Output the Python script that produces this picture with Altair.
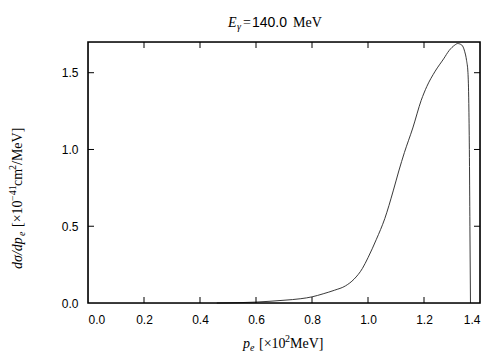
import altair as alt
import pandas as pd

# Curve (p_e in 10^2 MeV, dsigma/dp_e in 10^-41 cm^2/MeV)
p_e = [0.46, 0.50, 0.60, 0.70, 0.76, 0.80, 0.84, 0.88, 0.92, 0.95, 0.98, 1.00,
       1.03, 1.06, 1.09, 1.11, 1.13, 1.16, 1.19, 1.21, 1.24, 1.27, 1.29, 1.31,
       1.32, 1.335, 1.345, 1.352, 1.357, 1.360, 1.362, 1.364, 1.366]
dsig = [0.000, 0.001, 0.006, 0.018, 0.028, 0.040, 0.060, 0.083, 0.112, 0.155, 0.225, 0.295,
        0.415, 0.550, 0.730, 0.860, 0.980, 1.140, 1.320, 1.410, 1.510, 1.590, 1.645, 1.680,
        1.690, 1.680, 1.640, 1.580, 1.500, 1.300, 1.000, 0.500, 0.000]

x_ticks = [0.2, 0.4, 0.6, 0.8, 1.0, 1.2]
y_ticks = [0.5, 1.0, 1.5]

W, H = 392, 261
df = pd.DataFrame({"p": p_e, "s": dsig})
xt = pd.DataFrame({"x": x_ticks})
yt = pd.DataFrame({"y": y_ticks})

xs = alt.Scale(domain=[0, 1.4], nice=False, zero=False)
ys = alt.Scale(domain=[0, 1.7], nice=False, zero=False)

line = alt.Chart(df).mark_line(color="#222222", strokeWidth=0.9, interpolate="monotone").encode(
    x=alt.X("p:Q", scale=xs, axis=alt.Axis(
        title=None, values=[0, 0.2, 0.4, 0.6, 0.8, 1.0, 1.2, 1.4], format=".1f",
        ticks=False, domain=False, grid=False, labelPadding=11,
        labelFont="Liberation Sans", labelFontSize=12, labelColor="black")),
    y=alt.Y("s:Q", scale=ys, axis=alt.Axis(
        title=None, values=[0, 0.5, 1.0, 1.5], format=".1f",
        ticks=False, domain=False, grid=False, labelPadding=10,
        labelFont="Liberation Sans", labelFontSize=12, labelColor="black")),
)

tl = 6
xb = alt.Chart(xt).mark_rule(color="black", strokeWidth=1).encode(
    x=alt.X("x:Q", scale=xs), y=alt.value(H), y2=alt.value(H - tl))
xtop = alt.Chart(xt).mark_rule(color="black", strokeWidth=1).encode(
    x=alt.X("x:Q", scale=xs), y=alt.value(0), y2=alt.value(tl))
yl = alt.Chart(yt).mark_rule(color="black", strokeWidth=1).encode(
    y=alt.Y("y:Q", scale=ys), x=alt.value(0), x2=alt.value(tl))
yr = alt.Chart(yt).mark_rule(color="black", strokeWidth=1).encode(
    y=alt.Y("y:Q", scale=ys), x=alt.value(W), x2=alt.value(W - tl))

frame = alt.Chart(pd.DataFrame({"a": [0]})).mark_rect(
    fillOpacity=0, stroke="black", strokeWidth=1.6).encode(
    x=alt.value(0), x2=alt.value(W), y=alt.value(0), y2=alt.value(H))

def txt(s, x, y, italic=False, size=14, angle=0, font="Liberation Serif"):
    kw = dict(text=s, font=font, fontSize=size, align="left", baseline="alphabetic",
              color="black")
    if italic:
        kw["fontStyle"] = "italic"
    if angle:
        kw["angle"] = angle
    return alt.Chart(pd.DataFrame({"a": [0]})).mark_text(**kw).encode(
        x=alt.value(x), y=alt.value(y))

labels = [
    # title
    txt("E", 140, -15, italic=True),
    txt("γ", 149, -12, italic=True, size=10),
    txt("=", 155, -15),
    txt("140.0", 164, -15, size=14, font="Liberation Sans"),
    txt("MeV", 205, -15),
    # x axis title
    txt("p", 155, 306, italic=True),
    txt("e", 162, 309, italic=True, size=10),
    txt("[×10", 171, 306),
    txt("2", 197, 300, size=10),
    txt("MeV]", 202, 306),
    # y axis title (rotated, reads bottom to top)
    txt("dσ/dp", -66, 227, italic=True, angle=270),
    txt("e", -63, 194, italic=True, size=10, angle=270),
    txt("[×10", -66, 185, angle=270),
    txt("−41", -72, 159, size=10, angle=270),
    txt("cm", -66, 144, angle=270),
    txt("2", -72, 128, size=10, angle=270),
    txt("/MeV]", -66, 123, angle=270),
]

chart = alt.layer(line, xb, xtop, yl, yr, frame, *labels).properties(
    width=W, height=H,
    autosize=alt.AutoSizeParams(type="none"),
    padding={"left": 80, "top": 34, "right": 16, "bottom": 49},
).configure_view(stroke=None).configure(background="white")

chart.save("out.html", embed_options={"renderer": "svg", "actions": False})
